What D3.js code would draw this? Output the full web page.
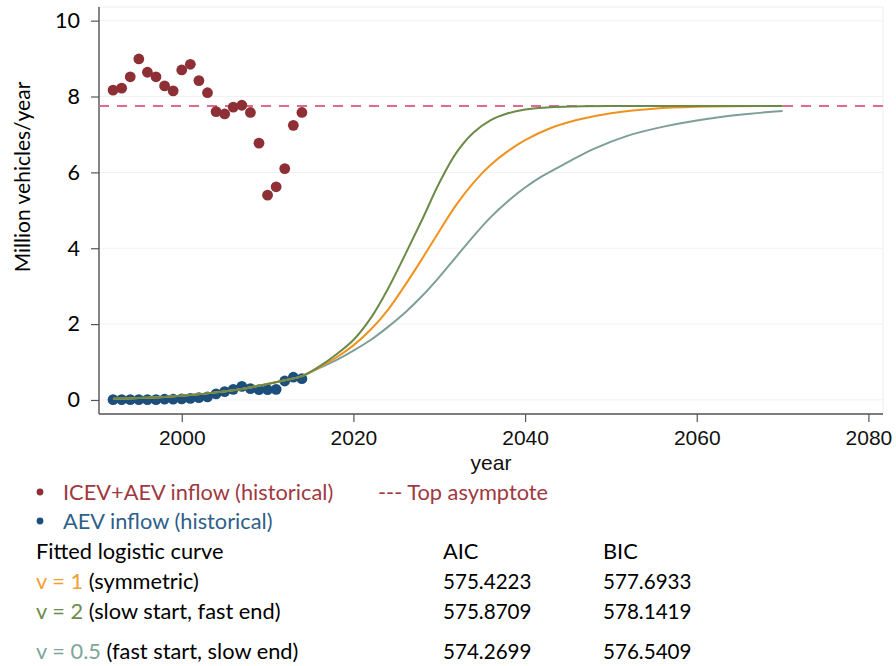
<!DOCTYPE html>
<html>
<head>
<meta charset="utf-8">
<script src="https://cdn.jsdelivr.net/npm/d3@7"></script>
<style>
  html, body { margin: 0; padding: 0; background: #ffffff; }
  svg { display: block; }
</style>
</head>
<body>
<svg id="chart" width="896" height="666"></svg>
<script>
// ---------------- DATA ----------------
const histYears = [1992,1993,1994,1995,1996,1997,1998,1999,2000,2001,2002,2003,2004,2005,2006,2007,2008,2009,2010,2011,2012,2013,2014];
const totalInflow = [8.17,8.22,8.52,8.99,8.64,8.52,8.28,8.15,8.70,8.85,8.42,8.10,7.60,7.54,7.72,7.77,7.58,6.77,5.40,5.62,6.10,7.24,7.58];
const aevInflow = [0.01,0.01,0.01,0.01,0.01,0.01,0.02,0.02,0.03,0.04,0.06,0.08,0.16,0.22,0.28,0.36,0.30,0.27,0.27,0.28,0.50,0.60,0.56];
const topAsymptote = 7.75;

const earlyYears = [1992,1995,1998,2001,2004,2007,2010,2012,2014];
const earlyValues = [0.03,0.05,0.08,0.13,0.20,0.29,0.42,0.52,0.63];

const v1Years = [2016,2018,2020,2022,2024,2026,2028,2030,2032,2034,2036,2038,2040,2043,2046,2050,2055,2060,2070];
const v1Values = [0.86,1.12,1.44,1.85,2.37,3.02,3.72,4.45,5.15,5.73,6.20,6.56,6.85,7.17,7.38,7.56,7.68,7.73,7.75];

const v2Years = [2016,2018,2020,2022,2024,2026,2028,2030,2032,2034,2036,2038,2040,2043,2046,2050,2060,2070];
const v2Values = [0.88,1.20,1.58,2.15,2.92,3.82,4.75,5.72,6.52,7.05,7.38,7.56,7.66,7.72,7.74,7.75,7.75,7.75];

const v05Years = [2016,2018,2020,2022,2024,2026,2028,2030,2032,2034,2036,2038,2040,2042,2045,2048,2052,2056,2060,2065,2070];
const v05Values = [0.84,1.05,1.30,1.58,1.92,2.30,2.74,3.24,3.78,4.32,4.82,5.24,5.60,5.90,6.27,6.62,6.97,7.20,7.37,7.52,7.62];

const xTicks = [2000,2020,2040,2060,2080];
const yTicks = [0,2,4,6,8,10];

const seriesLabels = ["ICEV+AEV inflow (historical)", "AEV inflow (historical)", "--- Top asymptote"];
const tableHeader = ["Fitted logistic curve", "AIC", "BIC"];
const fitLabels = ["v = 1", "v = 2", "v = 0.5"];
const fitDescriptions = [" (symmetric)", " (slow start, fast end)", " (fast start, slow end)"];
const aicValues = ["575.4223", "575.8709", "574.2699"];
const bicValues = ["577.6933", "578.1419", "576.5409"];

// ---------------- STYLE ----------------
const C = {
  red: "#8e2f36", blue: "#1d4f7c", dash: "#e06a8a",
  orange: "#f0921f", green: "#6a8a45", teal: "#7d9f98",
  redText: "#a0393f", blueText: "#2e5f8a", orangeText: "#f2a030",
  greenText: "#6d8c4a", tealText: "#7ea59b"
};
const uiFont = "Lato, 'Open Sans', sans-serif";
const axFont = "'Liberation Sans', Arial, sans-serif";

const svg = d3.select("#chart");
const x = d3.scaleLinear().domain([1990.36, 2081.7]).range([99, 883]);
const y = d3.scaleLinear().domain([-0.37, 10.36]).range([414, 7]);

// plot background frame
svg.append("rect").attr("x", 99).attr("y", 7).attr("width", 784).attr("height", 407)
  .attr("fill", "#ffffff").attr("stroke", "#eeeeee").attr("stroke-width", 1);

// gridlines
svg.append("g").selectAll("line").data(yTicks).join("line")
  .attr("x1", 99).attr("x2", 883)
  .attr("y1", d => y(d)).attr("y2", d => y(d))
  .attr("stroke", "#f1f1f1").attr("stroke-width", 1);

// axes
const yAxis = svg.append("g").attr("transform", "translate(99,0)")
  .call(d3.axisLeft(y).tickValues(yTicks).tickSize(8).tickPadding(11).tickFormat(d3.format("d")));
yAxis.select(".domain").attr("stroke", "#555").attr("stroke-width", 1.4)
  .attr("d", `M0,7V414`);
yAxis.selectAll(".tick line").attr("stroke", "#555").attr("stroke-width", 1.2);
yAxis.selectAll(".tick text").attr("font-family", uiFont).attr("font-size", 21.5).attr("fill", "#000");

const xAxis = svg.append("g").attr("transform", "translate(0,414)")
  .call(d3.axisBottom(x).tickValues(xTicks).tickSize(8).tickPadding(8).tickFormat(d3.format("d")));
xAxis.select(".domain").attr("stroke", "#555").attr("stroke-width", 1.4)
  .attr("d", `M99,0H883`);
xAxis.selectAll(".tick line").attr("stroke", "#555").attr("stroke-width", 1.2);
xAxis.selectAll(".tick text").attr("font-family", axFont).attr("font-size", 21).attr("fill", "#111");

// axis titles
svg.append("text").attr("x", 491).attr("y", 470).attr("text-anchor", "middle")
  .attr("font-family", axFont).attr("font-size", 21).attr("fill", "#111").text("year");
svg.append("text").attr("transform", "translate(30,177) rotate(-90)").attr("text-anchor", "middle")
  .attr("font-family", uiFont).attr("font-size", 21).attr("fill", "#000").text("Million vehicles/year");

// asymptote
svg.append("line").attr("x1", 99).attr("x2", 883)
  .attr("y1", y(topAsymptote)).attr("y2", y(topAsymptote))
  .attr("stroke", C.dash).attr("stroke-width", 2).attr("stroke-dasharray", "10,8");

// historical points
svg.append("g").selectAll("circle").data(histYears.map((yr, i) => [yr, totalInflow[i]])).join("circle")
  .attr("cx", d => x(d[0])).attr("cy", d => y(d[1])).attr("r", 5.4).attr("fill", C.red);
svg.append("g").selectAll("circle").data(histYears.map((yr, i) => [yr, aevInflow[i]])).join("circle")
  .attr("cx", d => x(d[0])).attr("cy", d => y(d[1])).attr("r", 5.4).attr("fill", C.blue);

// fitted curves
const line = d3.line().x(d => x(d[0])).y(d => y(d[1])).curve(d3.curveCatmullRom.alpha(0.5));
function series(yrs, vals) {
  return earlyYears.map((yr, i) => [yr, earlyValues[i]]).concat(yrs.map((yr, i) => [yr, vals[i]]));
}
const curves = [
  [series(v05Years, v05Values), C.teal],
  [series(v1Years, v1Values), C.orange],
  [series(v2Years, v2Values), C.green]
];
svg.append("g").selectAll("path").data(curves).join("path")
  .attr("d", d => line(d[0])).attr("fill", "none").attr("stroke", d => d[1]).attr("stroke-width", 2);

// legend
const fsText = 21.8, fsNum = 20.6;
function txt(xp, yp, color, fsz) {
  return svg.append("text").attr("x", xp).attr("y", yp).attr("font-family", uiFont)
    .attr("font-size", fsz || fsText).attr("fill", color);
}
svg.append("circle").attr("cx", 40).attr("cy", 492).attr("r", 3.4).attr("fill", C.red);
txt(63, 500, C.redText).text(seriesLabels[0]);
txt(378, 500, C.redText).text(seriesLabels[2]);
svg.append("circle").attr("cx", 40).attr("cy", 521).attr("r", 3.4).attr("fill", C.blue);
txt(63, 529, C.blueText).text(seriesLabels[1]);

txt(36, 559, "#000").text(tableHeader[0]);
txt(443, 559, "#000").text(tableHeader[1]);
txt(603, 559, "#000").text(tableHeader[2]);

const rowY = [589, 619, 659];
const fitColors = [C.orangeText, C.greenText, C.tealText];
fitLabels.forEach((lab, i) => {
  const t = txt(36, rowY[i], "#000");
  t.append("tspan").attr("fill", fitColors[i]).text(lab);
  t.append("tspan").attr("fill", "#000").text(fitDescriptions[i]);
  txt(443, rowY[i], "#000", fsNum).text(aicValues[i]);
  txt(603, rowY[i], "#000", fsNum).text(bicValues[i]);
});
</script>
</body>
</html>
